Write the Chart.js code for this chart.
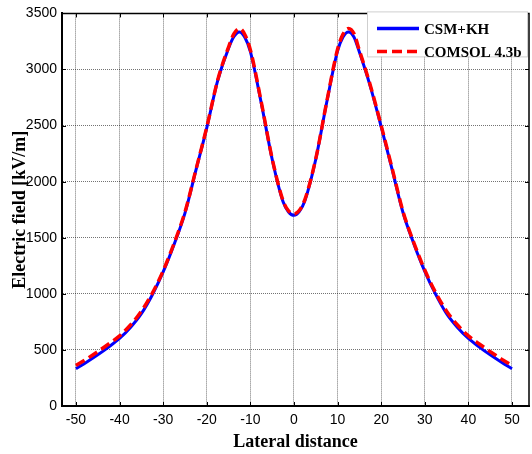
<!DOCTYPE html>
<html>
<head>
<meta charset="utf-8">
<script src="https://cdn.jsdelivr.net/npm/chart.js@4.4.0/dist/chart.umd.min.js"></script>
<style>
  html, body { margin: 0; padding: 0; background: #fff; }
  #wrap { width: 532px; height: 454px; }
</style>
</head>
<body>
<div id="wrap"><canvas id="chart" width="532" height="454"></canvas></div>
<script>
// lateral distance samples
const distance = [-50, -47.5, -45, -42.5, -40, -37.5, -35, -32.5, -30, -27.5, -25, -22.5, -20, -17.5, -15, -13.75, -12.5, -11.25, -10, -7.5, -5, -2.5, -1.25,
  0, 1.25, 2.5, 5, 7.5, 10, 11.25, 12.5, 13.75, 15, 17.5, 20, 22.5, 25, 27.5, 30, 32.5, 35, 37.5, 40, 42.5, 45, 47.5, 50];

const csmKh = [332, 392, 456, 525, 602, 700, 823, 990, 1195, 1440, 1720, 2100, 2480, 2900, 3190, 3295, 3335, 3285, 3160, 2700, 2200, 1820, 1730,
  1700, 1735, 1830, 2200, 2705, 3165, 3290, 3335, 3290, 3155, 2850, 2490, 2110, 1725, 1445, 1200, 995, 823, 700, 602, 525, 456, 392, 332];

const comsol = [362, 420, 485, 553, 625, 722, 845, 1005, 1205, 1450, 1728, 2105, 2485, 2905, 3200, 3320, 3365, 3310, 3175, 2710, 2205, 1830, 1740,
  1712, 1745, 1840, 2205, 2710, 3180, 3315, 3365, 3320, 3170, 2860, 2500, 2120, 1735, 1455, 1212, 1010, 845, 722, 625, 553, 485, 420, 362];

const seriesNames = ['CSM+KH', 'COMSOL 4.3b'];

const tickFont = { family: '"Liberation Sans", Arial, sans-serif', size: 14 };
const titleFont = { family: '"Liberation Serif", "Times New Roman", serif', size: 18, weight: 'bold' };

// ---- box round the plot + small inward ticks ----
const frame = {
  id: 'frame',
  afterDatasetsDraw(chart) {
    const { ctx, chartArea: a, scales } = chart;
    ctx.save();
    ctx.strokeStyle = '#000';
    ctx.lineWidth = 1.5;
    ctx.beginPath();
    ctx.moveTo(a.left, a.top); ctx.lineTo(a.right, a.top); ctx.lineTo(a.right, a.bottom);
    ctx.stroke();
    ctx.lineWidth = 1;
    ctx.beginPath();
    scales.x.ticks.forEach(t => {
      const px = Math.round(scales.x.getPixelForValue(t.value)) + 0.5;
      ctx.moveTo(px, a.bottom); ctx.lineTo(px, a.bottom - 4);
      ctx.moveTo(px, a.top); ctx.lineTo(px, a.top + 4);
    });
    scales.y.ticks.forEach(t => {
      const py = Math.round(scales.y.getPixelForValue(t.value)) + 0.5;
      ctx.moveTo(a.left, py); ctx.lineTo(a.left + 4, py);
      ctx.moveTo(a.right, py); ctx.lineTo(a.right - 4, py);
    });
    ctx.stroke();
    ctx.restore();
  }
};

// ---- legend box, top right inside the plot ----
const legendBox = {
  id: 'legendBox',
  afterDatasetsDraw(chart) {
    const { ctx, chartArea: a } = chart;
    const w = 160, h = 45;
    const x0 = a.right - w - 2, y0 = a.top - 2;
    ctx.save();
    ctx.fillStyle = '#fff';
    ctx.fillRect(x0, y0, w, h);
    ctx.strokeStyle = '#cfcfcf';
    ctx.lineWidth = 1;
    ctx.strokeRect(x0 + 0.5, y0 + 0.5, w, h);
    ctx.font = 'bold 15px "Liberation Serif", "Times New Roman", serif';
    ctx.textBaseline = 'middle';
    chart.data.datasets.forEach((ds, i) => {
      const y = y0 + 17 + i * 23;
      ctx.strokeStyle = ds.borderColor;
      ctx.lineWidth = 3.5;
      ctx.setLineDash(ds.borderDash || []);
      ctx.beginPath();
      ctx.moveTo(x0 + 10, y); ctx.lineTo(x0 + 52, y);
      ctx.stroke();
      ctx.setLineDash([]);
      ctx.fillStyle = '#000';
      ctx.fillText(ds.label, x0 + 57, y + 2);
    });
    ctx.restore();
  }
};

new Chart(document.getElementById('chart'), {
  type: 'line',
  data: {
    datasets: [
      {
        label: seriesNames[0],
        data: distance.map((d, i) => ({ x: d, y: csmKh[i] })),
        borderColor: '#0000ff',
        borderWidth: 3,
        pointRadius: 0,
        cubicInterpolationMode: 'monotone',
        order: 1,
      },
      {
        label: seriesNames[1],
        data: distance.map((d, i) => ({ x: d, y: comsol[i] })),
        borderColor: '#ff0000',
        borderWidth: 3.5,
        borderDash: [10, 5],
        pointRadius: 0,
        cubicInterpolationMode: 'monotone',
        order: 0,
      },
    ],
  },
  options: {
    responsive: false,
    animation: false,
    layout: { padding: { top: 10, right: 3, left: 0, bottom: 0 } },
    plugins: { legend: { display: false }, tooltip: { enabled: false } },
    scales: {
      x: {
        type: 'linear',
        min: -53.2,
        max: 53.9,
        ticks: { stepSize: 10, includeBounds: false, font: tickFont, color: '#000', padding: 6, maxRotation: 0, callback: v => String(v) },
        grid: { color: 'rgba(0,0,0,0.55)', drawTicks: false },
        border: { color: '#000', width: 2, dash: [1, 1] },
        title: { display: true, text: 'Lateral distance', font: titleFont, color: '#000', padding: { top: 0, bottom: 1 } },
        afterFit: s => { s.height = 48; },
      },
      y: {
        min: 0,
        max: 3500,
        ticks: { stepSize: 500, font: tickFont, color: '#000', padding: 5, callback: v => String(v) },
        grid: { color: 'rgba(0,0,0,0.55)', drawTicks: false },
        border: { color: '#000', width: 2, dash: [1, 1] },
        title: { display: true, text: 'Electric field [kV/m]', font: titleFont, color: '#000', padding: { top: 10, bottom: 0 } },
        afterFit: s => { s.width = 62; },
      },
    },
  },
  plugins: [frame, legendBox],
});
</script>
</body>
</html>
